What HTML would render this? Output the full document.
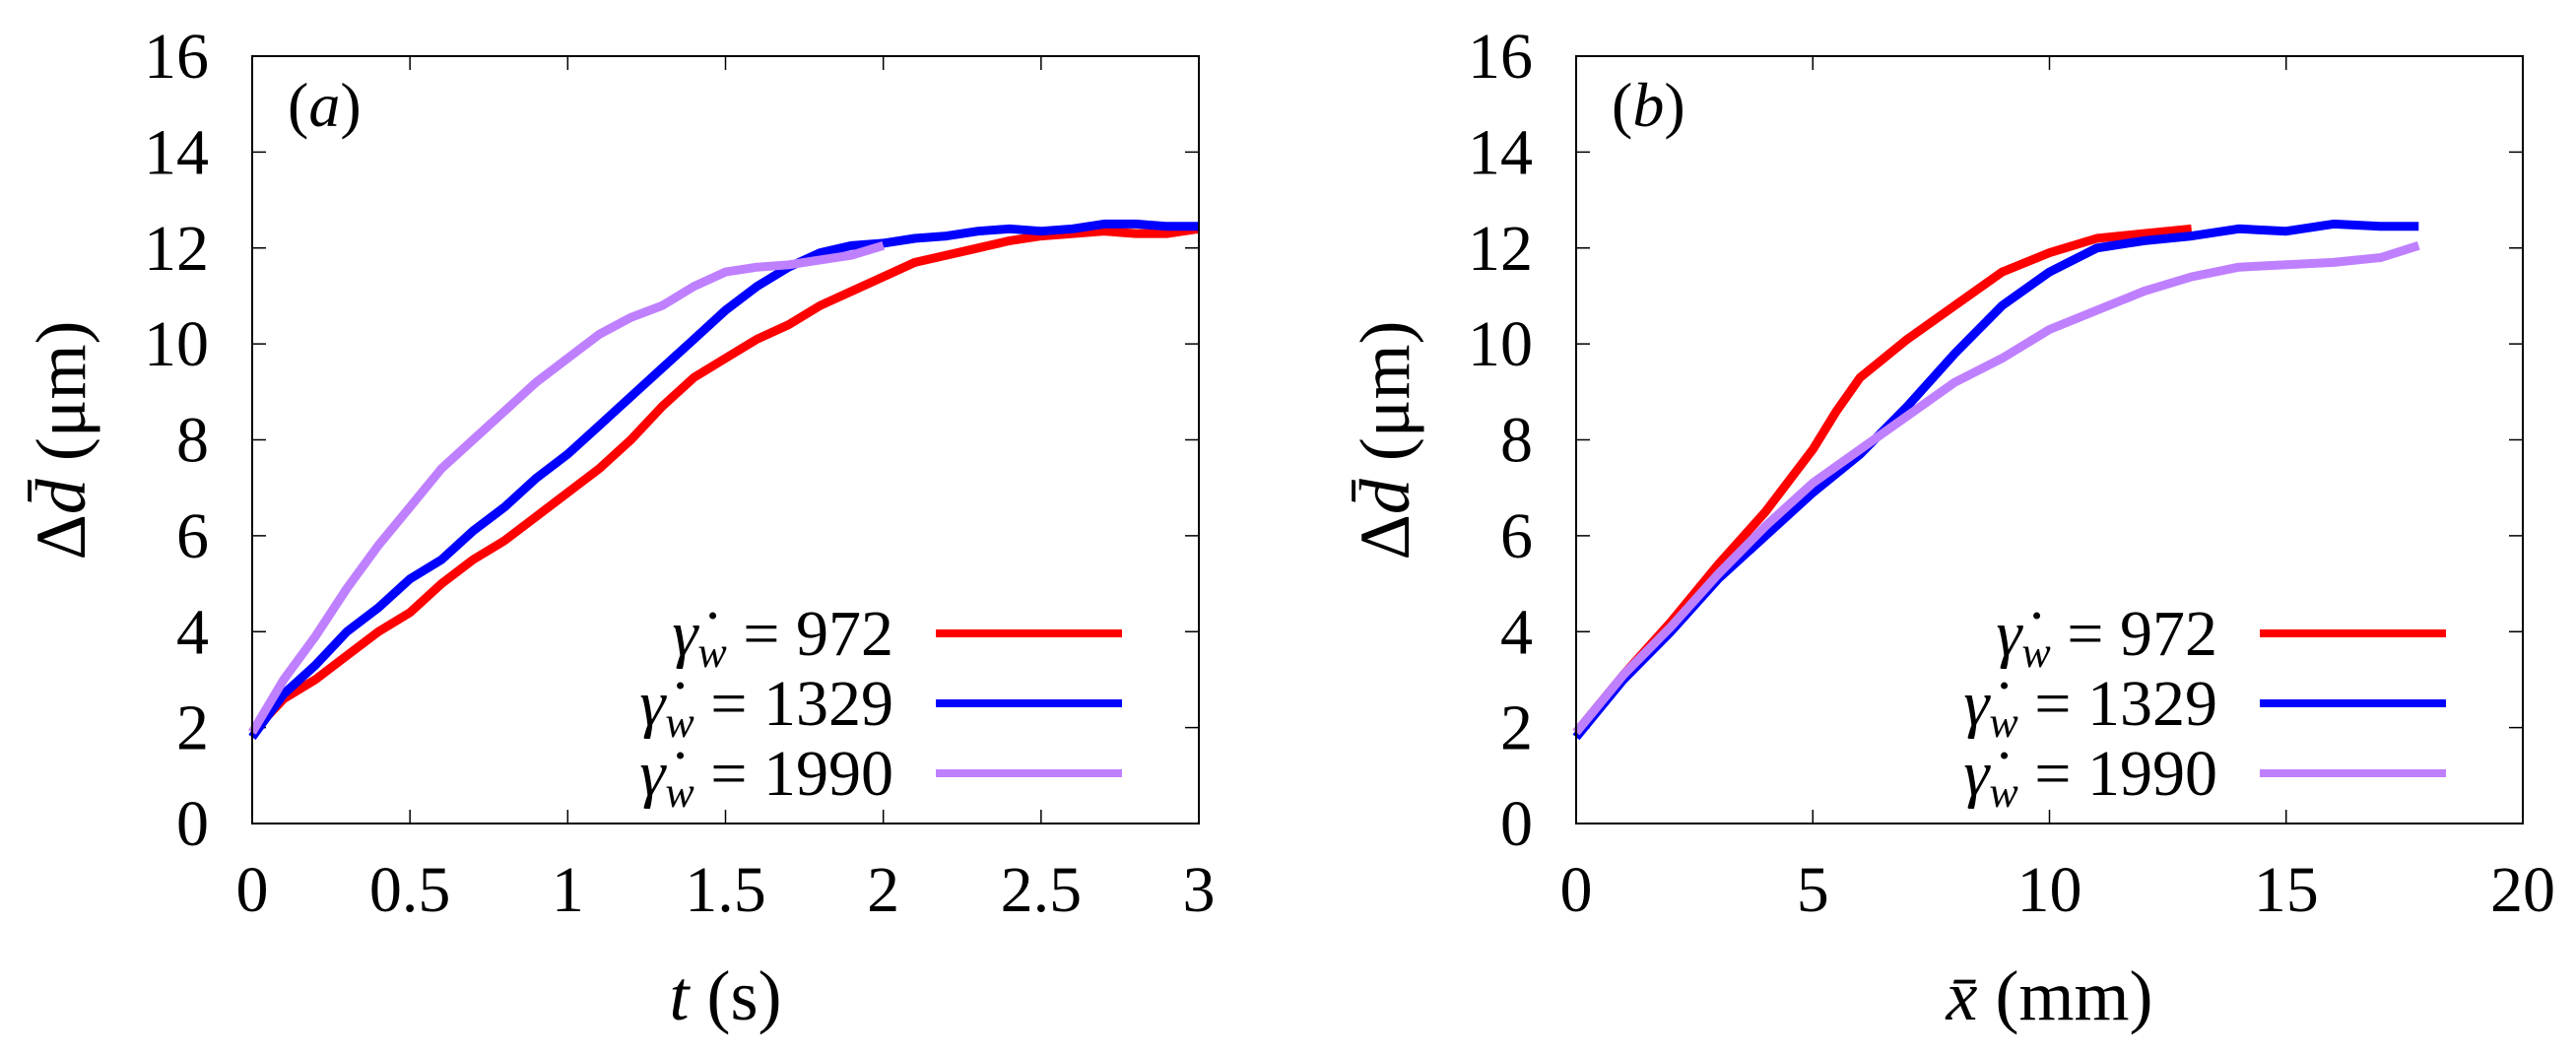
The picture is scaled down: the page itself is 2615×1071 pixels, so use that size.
<!DOCTYPE html>
<html><head><meta charset="utf-8"><style>
html,body{margin:0;padding:0;background:#fff;}
svg, svg text{font-family:"Liberation Serif","DejaVu Serif",serif;}
</style></head><body>
<svg id="fig" width="2615" height="1066" viewBox="0 0 2615 1066" xmlns="http://www.w3.org/2000/svg" font-family="Liberation Serif, DejaVu Serif, serif">
</svg>
<script>
// Panel (a): time axis
const aT = [0,0.1,0.2,0.3,0.4,0.5,0.6,0.7,0.8,0.9,1.0,1.1,1.2,1.3,1.4,1.5,1.6,1.7,1.8,1.9,2.0,2.1,2.2,2.3,2.4,2.5,2.6,2.7,2.8,2.9,3.0];
const aRed = [1.9,2.6,3.0,3.5,4.0,4.4,5.0,5.5,5.9,6.4,6.9,7.4,8.0,8.7,9.3,9.7,10.1,10.4,10.8,11.1,11.4,11.7,11.85,12.0,12.15,12.25,12.3,12.35,12.3,12.3,12.4];
const aBlue = [1.8,2.7,3.3,4.0,4.5,5.1,5.5,6.1,6.6,7.2,7.7,8.3,8.9,9.5,10.1,10.7,11.2,11.6,11.9,12.05,12.1,12.2,12.25,12.35,12.4,12.35,12.4,12.5,12.5,12.45,12.45];
const aPurpleT = [0,0.1,0.2,0.3,0.4,0.5,0.6,0.7,0.8,0.9,1.0,1.1,1.2,1.3,1.4,1.5,1.6,1.7,1.8,1.9,2.0];
const aPurple = [1.9,3.0,3.9,4.9,5.8,6.6,7.4,8.0,8.6,9.2,9.7,10.2,10.55,10.8,11.2,11.5,11.6,11.65,11.75,11.85,12.05];
// Panel (b): distance axis
const bRedX = [0,1,2,3,4,5,5.5,6,7,8,9,10,11,12,13];
const bRed = [1.9,3.1,4.2,5.4,6.5,7.8,8.6,9.3,10.1,10.8,11.5,11.9,12.2,12.3,12.4];
const bBlueX = [0,1,2,3,4,5,6,7,8,9,10,11,12,13,14,15,16,17,17.8];
const bBlue = [1.8,3.0,4.0,5.1,6.0,6.9,7.7,8.7,9.8,10.8,11.5,12.0,12.15,12.25,12.4,12.35,12.5,12.45,12.45];
const bPurpleX = [0,1,2,3,4,5,6,7,8,9,10,11,12,13,14,15,16,17,17.8];
const bPurple = [1.9,3.1,4.1,5.2,6.2,7.1,7.8,8.5,9.2,9.7,10.3,10.7,11.1,11.4,11.6,11.65,11.7,11.8,12.05];
const yTicks = [0,2,4,6,8,10,12,14,16];
const aXTicks = [0,0.5,1,1.5,2,2.5,3];
const bXTicks = [0,5,10,15,20];
const legendVals = ["972","1329","1990"];
const colors = ["#ff0000","#0000ff","#bf80ff"];

const NS="http://www.w3.org/2000/svg";
const FF='Liberation Serif, DejaVu Serif, serif';
const svg=document.getElementById('fig');
function mk(tag,attrs,parent){const e=document.createElementNS(NS,tag);for(const k in attrs)e.setAttribute(k,attrs[k]);if(tag==='text')e.setAttribute('font-family',FF);(parent||svg).appendChild(e);return e;}

function panel(id,L,xmax,xTicks,xLabelHTML,series,letter){
  const R=L+961,T=57,B=836;
  const g=mk('g',{});
  
  
  const sx=v=>L+(v/xmax)*(R-L);
  const sy=v=>B-(v/16)*(B-T);
  yTicks.forEach(v=>{
    const y=sy(v);
    if(v>0&&v<16){
      const t1=mk('line',{x1:L,x2:L+14,y1:y,y2:y,stroke:'#000','stroke-width':1.5},g);
      
      
      const t2=mk('line',{x1:R-14,x2:R,y1:y,y2:y,stroke:'#000','stroke-width':1.5},g);
      
      
    }
    const tx=mk('text',{x:L-44,y:y+22,'text-anchor':'end','font-size':66},g);
    tx.textContent=String(v);
    
    
  });
  xTicks.forEach(v=>{
    const x=sx(v);
    if(v>0&&v<xmax){
      const t1=mk('line',{x1:x,x2:x,y1:B,y2:B-14,stroke:'#000','stroke-width':1.5},g);
      
      
      const t2=mk('line',{x1:x,x2:x,y1:T,y2:T+14,stroke:'#000','stroke-width':1.5},g);
      
      
    }
    const tx=mk('text',{x:x,y:925,'text-anchor':'middle','font-size':66},g);
    tx.textContent=String(v);
    
    
  });
  series.forEach((s,i)=>{
    const pts=s.x.map((v,j)=>sx(v).toFixed(1)+','+sy(s.y[j]).toFixed(1)).join(' ');
    const pl=mk('polyline',{points:pts,fill:'none',stroke:colors[i],'stroke-width':9,'stroke-linejoin':'round'},g);
    
    
  });
  const fr=mk('rect',{x:L,y:T,width:R-L,height:B-T,fill:'none',stroke:'#000','stroke-width':2},g);
  
  
  const pt=mk('text',{x:L+36,y:128,'font-size':64},g);
  pt.innerHTML='(<tspan font-style="italic">'+letter+'</tspan>)';
  
  
  const rows=[643,714,785];
  legendVals.forEach((v,i)=>{
    const lt=mk('text',{x:L+651,y:rows[i]+22,'text-anchor':'end','font-size':66},g);
    lt.innerHTML='<tspan font-style="italic">γ̇</tspan><tspan font-style="italic" font-size="44" dy="12">w</tspan><tspan dy="-12"> = '+v+'</tspan>';
    
    
    const ll=mk('line',{x1:L+694,x2:L+883,y1:rows[i],y2:rows[i],stroke:colors[i],'stroke-width':8},g);
    
    
  });
  const yl=mk('text',{x:0,y:0,'text-anchor':'middle','font-size':72,transform:'translate('+(L-170)+',447) rotate(-90)'},g);
  yl.innerHTML='Δ<tspan font-style="italic">d̄</tspan> (μm)';
  
  
  const xl=mk('text',{x:(L+R)/2,y:1035,'text-anchor':'middle','font-size':72},g);
  xl.innerHTML=xLabelHTML;
  
  
}

panel('a',256,3,aXTicks,'<tspan font-style="italic">t</tspan> (s)',[
  {x:aT,y:aRed},{x:aT,y:aBlue},{x:aPurpleT,y:aPurple}],'a');
panel('b',1600,20,bXTicks,'<tspan font-style="italic">x̄</tspan> (mm)',[
  {x:bRedX,y:bRed},{x:bBlueX,y:bBlue},{x:bPurpleX,y:bPurple}],'b');
</script>
</body></html>
